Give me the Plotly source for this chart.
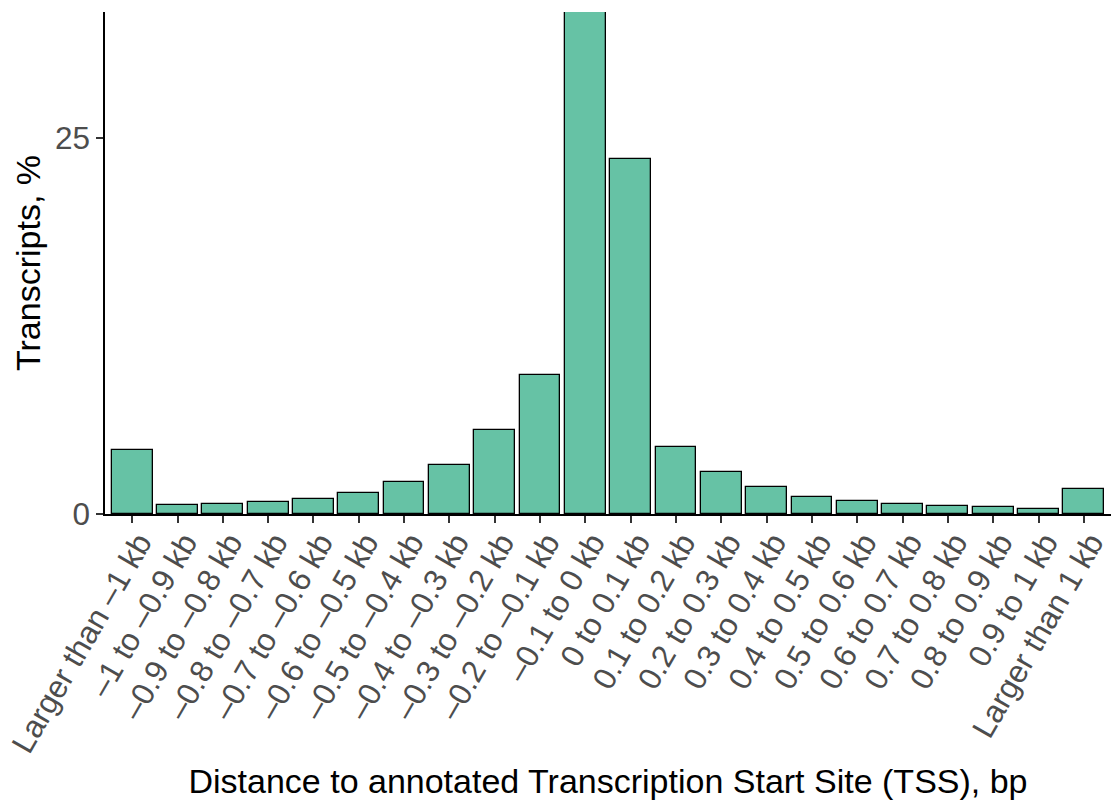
import plotly.graph_objects as go

categories = [
    "Larger than –1 kb", "–1 to –0.9 kb", "–0.9 to –0.8 kb", "–0.8 to –0.7 kb",
    "–0.7 to –0.6 kb", "–0.6 to –0.5 kb", "–0.5 to –0.4 kb", "–0.4 to –0.3 kb",
    "–0.3 to –0.2 kb", "–0.2 to –0.1 kb", "–0.1 to 0 kb", "0 to 0.1 kb",
    "0.1 to 0.2 kb", "0.2 to 0.3 kb", "0.3 to 0.4 kb", "0.4 to 0.5 kb",
    "0.5 to 0.6 kb", "0.6 to 0.7 kb", "0.7 to 0.8 kb", "0.8 to 0.9 kb",
    "0.9 to 1 kb", "Larger than 1 kb",
]
values = [4.26, 0.6, 0.68, 0.8, 1.0, 1.4, 2.15, 3.27, 5.6, 9.25, 33.4, 23.6,
          4.45, 2.8, 1.8, 1.13, 0.87, 0.67, 0.55, 0.47, 0.33, 1.66]
y_ticks = [0, 25]

FONT = "Liberation Sans, Arial, sans-serif"

fig = go.Figure(go.Bar(
    x=list(range(len(categories))),
    y=values,
    width=0.9,
    marker=dict(color="#66C2A5", line=dict(color="black", width=1.3)),
))

fig.update_layout(
    width=1111, height=800,
    margin=dict(l=105, r=0, t=12, b=286),
    plot_bgcolor="white", paper_bgcolor="white",
    showlegend=False,
    font=dict(family=FONT),
    bargap=0,
)
fig.update_xaxes(
    range=[-0.6, 21.6],
    automargin=False,
    ticklabeloverflow="allow",
    ticklabelstandoff=-11,
    ticklabelshift=7,
    tickmode="array", tickvals=list(range(len(categories))), ticktext=categories,
    tickangle=-60,
    tickfont=dict(size=31.5, color="#4D4D4D", family=FONT),
    ticks="outside", ticklen=7, tickwidth=1.5, tickcolor="#333333",
    showline=True, linecolor="black", linewidth=1.5,
    showgrid=False, zeroline=False,
    title=dict(text="Distance to annotated Transcription Start Site (TSS), bp",
               font=dict(size=34, color="black", family=FONT), standoff=25),
)
fig.update_yaxes(
    range=[0, 33.4],
    automargin=False,
    ticklabeloverflow="allow",
    tickmode="array", tickvals=y_ticks, ticktext=[str(v) for v in y_ticks],
    tickfont=dict(size=31.5, color="#4D4D4D", family=FONT),
    ticks="outside", ticklen=7, tickwidth=1.5, tickcolor="#333333",
    showline=True, linecolor="black", linewidth=1.5,
    showgrid=False, zeroline=False,
    title=dict(text="Transcripts, %", font=dict(size=34, color="black", family=FONT),
               standoff=4),
)

fig.write_html("out.html",
               config={"displayModeBar": False},
               post_script="document.body.style.margin='0';document.body.style.overflow='hidden';")
